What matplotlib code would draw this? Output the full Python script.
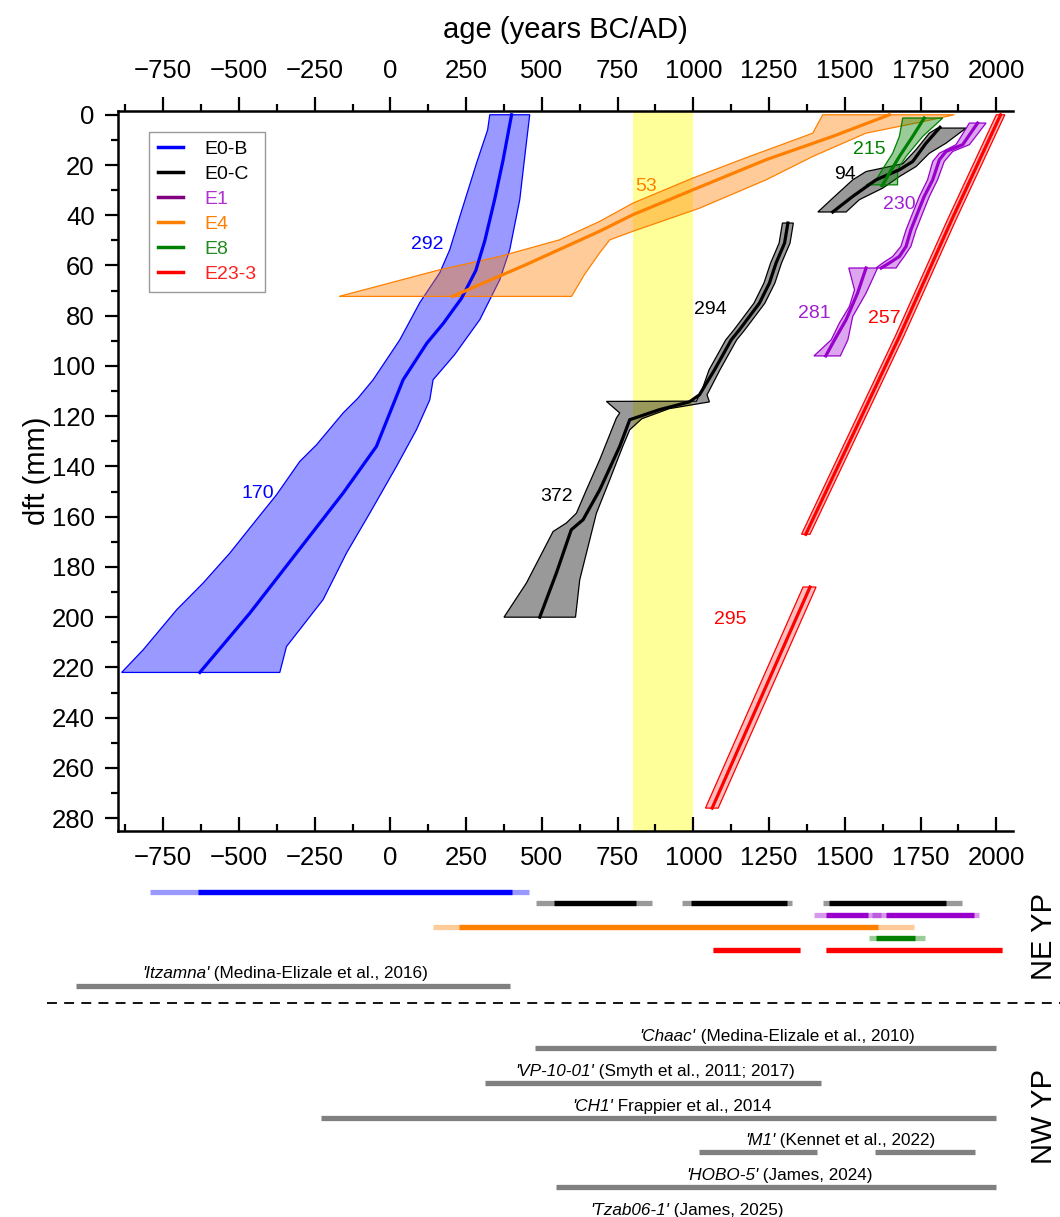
import numpy as np
import matplotlib
matplotlib.use('Agg')
import matplotlib.pyplot as plt
from matplotlib.lines import Line2D
from matplotlib.patches import Polygon
from matplotlib.colors import to_rgba
from matplotlib.ticker import MultipleLocator, FixedLocator
from matplotlib.transforms import offset_copy

plt.rcParams['font.family'] = ['Liberation Sans', 'DejaVu Sans']

# ------------------------------------------------------------
# Age models: (age years BC/AD, dft mm) -> left edge, right edge, median
# ------------------------------------------------------------
E0B_left = [(328, 0), (321, 6), (285, 19), (229, 40.6), (196, 53.7), (163, 62.9), (97, 74.8),
            (31, 89.6), (-57, 105.5), (-107, 112.8), (-156, 118.7), (-244, 131.4), (-299, 138),
            (-376, 151.3), (-442, 161.2), (-530, 174.5), (-618, 186.4), (-705, 197), (-816, 213), (-887, 222)]
E0B_right = [(460, 0), (450, 10), (427, 33.8), (394, 53.7), (361, 65.7), (295, 81.6), (212, 95.5),
             (141, 105.5), (130, 113.5), (86, 125.4), (20, 140), (-68, 158.6), (-145, 174.5),
             (-222, 193), (-343, 211.7), (-365, 222)]
E0B_mid = [(400, 0), (372, 18), (344, 33.8), (312, 50), (282, 62), (235, 73), (175, 83), (120, 91),
           (42, 105.5), (-46, 132), (-156, 150.6), (-310, 174.5), (-464, 198.4), (-629, 222)]

E0C_top_left = [(1806, 5.3), (1779, 7.3), (1735, 13.9), (1691, 19.5), (1625, 21.2), (1570, 22.6),
                (1526, 25.9), (1460, 33.2), (1411, 38.7)]
E0C_top_right = [(1900, 5.3), (1834, 11.3), (1779, 15.3), (1735, 20.6), (1680, 24.6), (1625, 29.2),
                 (1548, 33.8), (1504, 38.7)]
E0C_top_mid = [(1814, 5), (1768, 11.3), (1724, 18.6), (1680, 21.9), (1603, 25.9), (1526, 32.5), (1460, 38.7)]

E0C_left = [(1294, 43.1), (1283, 51.1), (1255, 59), (1233, 67), (1200, 75), (1167, 80.3), (1134, 85.6),
            (1107, 89.6), (1052, 101.5), (1030, 109), (1010, 114), (713, 114.1), (757, 118.7),
            (746, 120.7), (691, 137.3), (647, 149.3), (614, 158.6), (581, 162.5), (537, 165.9),
            (449, 186.4), (375, 200)]
E0C_right = [(1330, 43.1), (1319, 51.1), (1291, 59), (1269, 67), (1236, 75), (1203, 80.3), (1170, 85.6),
             (1143, 89.6), (1088, 101.5), (1045, 111.5), (1053, 114.3), (920, 117), (830, 121),
             (790, 125.4), (767, 132), (724, 145.3), (680, 158.6), (658, 169.2), (625, 185.1), (611, 200)]
E0C_mid = [(1312, 43.1), (1301, 51.1), (1273, 59), (1251, 67), (1218, 75), (1185, 80.3), (1152, 85.6),
           (1125, 89.6), (1070, 101.5), (1020, 111.5), (987, 114.3), (888, 117.4), (790, 121.4),
           (757, 132), (691, 149.3), (636, 161.2), (597, 165.2), (548, 182.4), (493, 200)]

E1_top_left = [(1911, 3.3), (1867, 11.9), (1812, 15.3), (1790, 18.6), (1773, 25.9), (1746, 32.5),
               (1724, 39.1), (1702, 45.8), (1685, 52.4), (1658, 56.4), (1625, 59), (1603, 61)]
E1_top_right = [(1966, 3.3), (1911, 11.9), (1856, 14.6), (1828, 18.6), (1806, 25.9), (1779, 32.5),
                (1757, 39.1), (1735, 45.8), (1718, 52.4), (1696, 56.4), (1680, 59), (1669, 61)]
E1_top_mid = [(1938, 3.3), (1889, 11.9), (1834, 14.6), (1812, 17.9), (1790, 25.9), (1762, 32.5),
              (1740, 39.1), (1718, 45.8), (1702, 52.4), (1680, 56.4), (1647, 59), (1620, 61)]
E1_low_left = [(1513, 61), (1532, 69.7), (1515, 76.3), (1482, 82.9), (1455, 89.6), (1398, 96)]
E1_low_right = [(1608, 61), (1570, 71), (1526, 80.3), (1510, 89.6), (1485, 96)]
E1_low_mid = [(1570, 61), (1542, 71), (1504, 81.6), (1466, 89.6), (1437, 96)]

E4_left = [(1427, 0), (1394, 7.3), (1350, 9.3), (1185, 16.6), (998, 25.2), (800, 35.2), (690, 42.5),
           (558, 49.8), (361, 56.4), (163, 61.7), (-169, 72.3)]
E4_right = [(1861, 0), (1735, 3.3), (1570, 7.3), (1394, 16.6), (1240, 25.9), (1020, 37.2), (800, 46.4),
            (724, 49.8), (690, 55.1), (640, 63.7), (598, 72.3)]
E4_mid = [(1647, 0), (1460, 8.6), (1240, 17.9), (998, 29.9), (800, 39.8), (690, 46.4), (447, 59.7), (205, 72.3)]

E8_left = [(1691, 1.3), (1680, 8.6), (1658, 15.3), (1630, 20.6), (1603, 25.9), (1570, 27.9)]
E8_right = [(1823, 1.3), (1757, 8.6), (1702, 16.6), (1680, 20.6), (1674, 23.2), (1674, 27.9)]
E8_mid = [(1762, 1.3), (1724, 8.6), (1680, 16.6), (1647, 23.2), (1623, 28.3)]

E23_top_left = [(2000, 0), (1838, 42), (1667, 88), (1357, 167)]
E23_top_right = [(2028, 0), (1866, 42), (1695, 88), (1385, 167)]
E23_top_mid = [(2014, 0), (1852, 42), (1681, 88), (1371, 167)]
E23_low_left = [(1362, 188), (1040, 276)]
E23_low_right = [(1405, 188), (1082, 276)]
E23_low_mid = [(1385, 188), (1062, 276)]

# number of dated samples / labels: (text, age, dft, colour)
model_labels = [('292', 123, 51.8, '#0000ff'), ('170', -436, 150.6, '#0000ff'),
                ('53', 845, 28.5, '#ff8000'), ('215', 1581, 13.9, '#008000'),
                ('94', 1502, 23.9, 'black'), ('230', 1680, 35.8, '#a020d0'),
                ('281', 1400, 79, '#a020d0'), ('257', 1630, 81, '#ff0000'),
                ('294', 1057, 77.6, 'black'), ('372', 548, 152, 'black'),
                ('295', 1123, 201, '#ff0000')]

# tick values
age_ticks = [-750, -500, -250, 0, 250, 500, 750, 1000, 1250, 1500, 1750, 2000]
age_minor = [-875, -625, -375, -125, 125, 375, 625, 875, 1125, 1375, 1625, 1875]

# ------------------------------------------------------------
# Coverage bars: (light start, dark start, dark end, light end)
# ------------------------------------------------------------
bar_E0B = [(-795, -636, 402, 457)]
bar_E0C = [(481, 540, 811, 862), (963, 993, 1309, 1325), (1427, 1449, 1835, 1886)]
bar_E1 = [(1398, 1437, 1577, 1620), (1590, 1635, 1925, 1944)]
bar_E4 = [(141, 226, 1609, 1727)]
bar_E8 = [(1581, 1603, 1733, 1766)]
bar_E23 = [(1065, 1065, 1351, 1351), (1437, 1437, 2020, 2020)]

itzamna = (-1037, 395)
nw_records = [
    ("'Chaac'", ' (Medina-Elizale et al., 2010)', [(476, 2000)], 1276),
    ("'VP-10-01'", ' (Smyth et al., 2011; 2017)', [(312, 1420)], 872),
    ("'CH1'", ' Frappier et al., 2014', [(-230, 2000)], 930),
    ("'M1'", ' (Kennet et al., 2022)', [(1018, 1407), (1600, 1930)], 1485),
    ("'HOBO-5'", ' (James, 2024)', [(546, 2000)], 1284),
    ("'Tzab06-1'", ' (James, 2025)', [], 979),
]

W, H = 1060, 1217
fig = plt.figure(figsize=(W / 100, H / 100), dpi=100)

ax_l, ax_r, ax_t, ax_b = 117.7, 1013, 111, 830.7
ax = fig.add_axes([ax_l / W, 1 - ax_b / H, (ax_r - ax_l) / W, (ax_b - ax_t) / H])
XLIM = (-900, 2055)
ax.set_xlim(*XLIM)
ax.set_ylim(285, -1.5)

ax.axvspan(800, 1000, color='#ffff99', zorder=0, lw=0)


def band(left, right, mid, color, alpha, edge=None):
    edge = edge or color
    pts = np.vstack([np.array(left), np.array(right)[::-1]])
    ax.add_patch(Polygon(pts, closed=True, facecolor=to_rgba(color, alpha),
                         edgecolor=edge, lw=0.9, zorder=2))
    m = np.array(mid)
    ax.plot(m[:, 0], m[:, 1], color=color, lw=2.3, zorder=3)


band(E0B_left, E0B_right, E0B_mid, '#0000ff', 0.4)
band(E0C_top_left, E0C_top_right, E0C_top_mid, 'black', 0.4)
band(E0C_left, E0C_right, E0C_mid, 'black', 0.4)
band(E1_top_left, E1_top_right, E1_top_mid, '#9900cc', 0.35)
band(E1_low_left, E1_low_right, E1_low_mid, '#9900cc', 0.35)
band(E4_left, E4_right, E4_mid, '#ff8000', 0.4)
band(E8_left, E8_right, E8_mid, '#008000', 0.4)
band(E23_top_left, E23_top_right, E23_top_mid, '#ff0000', 0.3)
band(E23_low_left, E23_low_right, E23_low_mid, '#ff0000', 0.25)

for txt, a, d, c in model_labels:
    ax.text(a, d, txt, color=c, fontsize=14, ha='center', va='center', zorder=5)

# legend
names = ['E0-B', 'E0-C', 'E1', 'E4', 'E8', 'E23-3']
line_cols = ['#0000ff', 'black', '#800080', '#ff8000', '#008000', '#ff0000']
text_cols = ['black', 'black', '#b030d0', '#ff8000', '#228b22', '#ff2020']
handles = [Line2D([], [], color=c, lw=2.5) for c in line_cols]
leg = ax.legend(handles, names, loc='upper left', bbox_to_anchor=(0.035, 0.971),
                borderaxespad=0, fontsize=14, frameon=True, fancybox=False,
                edgecolor='#808080', handlelength=1.3, handletextpad=1.1,
                labelspacing=0.38, borderpad=0.45)
leg.get_frame().set_linewidth(1.0)
for t, c in zip(leg.get_texts(), text_cols):
    t.set_color(c)

# axes styling
for s in ['right', 'top']:
    ax.spines[s].set_visible(False)
for s in ['left', 'bottom']:
    ax.spines[s].set_linewidth(1.8)
ax.xaxis.set_major_locator(FixedLocator(age_ticks))
ax.xaxis.set_minor_locator(FixedLocator(age_minor))
ax.yaxis.set_major_locator(MultipleLocator(20))
ax.yaxis.set_minor_locator(MultipleLocator(10))
ax.tick_params(axis='x', which='major', direction='in', length=10, width=1.6, labelsize=18.5, pad=11)
ax.tick_params(axis='x', which='minor', direction='in', length=5, width=1.6)
ax.tick_params(axis='y', which='major', direction='out', length=9.6, width=1.6, labelsize=18.5, pad=7)
ax.tick_params(axis='y', which='minor', direction='out', length=5, width=1.6)
ax.xaxis.get_offset_text().set_visible(False)
ax.yaxis.get_offset_text().set_visible(False)

sec = ax.secondary_xaxis('top')
sec.xaxis.set_major_locator(FixedLocator(age_ticks))
sec.xaxis.set_minor_locator(FixedLocator(age_minor))
sec.spines['top'].set_linewidth(1.8)
sec.tick_params(axis='x', which='major', direction='out', length=10, width=1.6, labelsize=18.5, pad=10)
sec.tick_params(axis='x', which='minor', direction='out', length=5, width=1.6)
sec.xaxis.get_offset_text().set_visible(False)

ax.set_ylabel('dft (mm)', fontsize=21)
ax.yaxis.set_label_coords(-0.075, 0.5)
fig.text(565 / W, 1 - 30 / H, 'age (years BC/AD)', fontsize=21, ha='center', va='center')

# ------------------------------------------------------------
# lower panel: coverage bars
# ------------------------------------------------------------
low_top = 870
ax2 = fig.add_axes([ax_l / W, 0, (ax_r - ax_l) / W, (H - low_top) / H])
ax2.set_xlim(*XLIM)
ax2.set_ylim(H, low_top)
ax2.axis('off')

BAR_LW = 3.8
row0, row_dy = 891.7, 11.67
ne_rows = [(bar_E0B, '#0000ff'), (bar_E0C, 'black'), (bar_E1, '#9900cc'),
           (bar_E4, '#ff8000'), (bar_E8, '#008000'), (bar_E23, '#ff0000')]
for i, (segs, c) in enumerate(ne_rows):
    y = row0 + i * row_dy
    for a0, a1, a2, a3 in segs:
        ax2.plot([a0, a3], [y, y], color=to_rgba(c, 0.4), lw=BAR_LW, solid_capstyle='butt')
        ax2.plot([a1, a2], [y, y], color=c, lw=BAR_LW, solid_capstyle='butt')

GREY = '#808080'
renderer = fig.canvas.get_renderer()


def cite(xc, y, name, rest):
    t1 = ax2.text(xc, y, name, style='italic', fontsize=12.3, ha='left', va='center')
    t2 = ax2.text(xc, y, rest, fontsize=12.3, ha='left', va='center')
    w1 = t1.get_window_extent(renderer).width
    w2 = t2.get_window_extent(renderer).width
    x0 = -(w1 + w2) / 2
    t1.set_transform(offset_copy(ax2.transData, fig=fig, x=x0 * 72 / fig.dpi, y=0, units='points'))
    t2.set_transform(offset_copy(ax2.transData, fig=fig, x=(x0 + w1) * 72 / fig.dpi, y=0, units='points'))


ax2.plot(itzamna, [985.7, 985.7], color=GREY, lw=BAR_LW, solid_capstyle='butt', clip_on=False)
cite(-348, 973, "'Itzamna'", ' (Medina-Elizale et al., 2016)')

fig.add_artist(Line2D([47 / W, 1.0], [1 - 1003 / H] * 2, transform=fig.transFigure,
                      color='black', lw=1.3, ls=(0, (5.5, 4))))

nw_bar0, nw_dy = 1048, 34.8
for i, (name, rest, segs, xc) in enumerate(nw_records):
    y = nw_bar0 + i * nw_dy
    for a0, a1 in segs:
        ax2.plot([a0, a1], [y, y], color=GREY, lw=BAR_LW, solid_capstyle='butt')
    cite(xc, y - 11.5, name, rest)

fig.text(1044 / W, 1 - 937 / H, 'NE YP', rotation=90, fontsize=21, ha='center', va='center')
fig.text(1044 / W, 1 - 1116 / H, 'NW YP', rotation=90, fontsize=21, ha='center', va='center')

fig.savefig('out.png', dpi=100)
